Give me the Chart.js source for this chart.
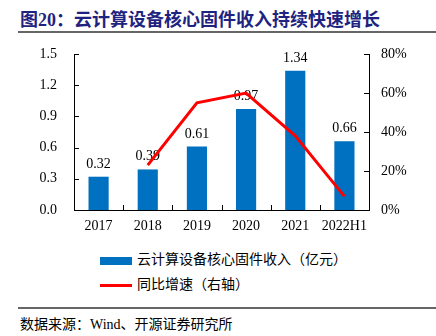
<!DOCTYPE html>
<html>
<head>
<meta charset="utf-8">
<script src="https://cdn.jsdelivr.net/npm/chart.js@4"></script>
<style>
  body { margin: 0; width: 436px; height: 336px; background: #fff; position: relative; overflow: hidden;
         font-family: 'Liberation Serif', 'Noto Sans CJK SC', serif; }
  .title { position: absolute; left: 20px; top: 5px; font-size: 18px; font-weight: bold; color: #1f2380;
           font-family: 'Liberation Serif', 'Noto Sans CJK SC', serif; white-space: nowrap; }
  .rule { position: absolute; left: 18px; right: 0; height: 2px; background: #666; }
  .chartbox { position: absolute; left: 0; top: 0; width: 436px; height: 240px; }
  .legend { position: absolute; left: 100px; font-size: 14px; color: #000; white-space: nowrap; }
  .legend .sw { display: inline-block; width: 32px; vertical-align: middle; margin-right: 5px; }
  .footer { position: absolute; left: 20px; top: 313px; font-size: 14px; color: #000; white-space: nowrap; }
</style>
</head>
<body>
<div class="title">图20：云计算设备核心固件收入持续快速增长</div>
<div class="rule" style="top:31px"></div>
<div class="chartbox"><canvas id="chart" width="436" height="240"></canvas></div>
<div class="legend" style="top:248px"><span class="sw" style="height:8px;background:#0070c0"></span>云计算设备核心固件收入（亿元）</div>
<div class="legend" style="top:273px"><span class="sw" style="height:3px;background:#ff0000"></span>同比增速（右轴）</div>
<div class="rule" style="top:307px"></div>
<div class="footer">数据来源：Wind、开源证券研究所</div>
<script>
// categories and values
const years = ['2017', '2018', '2019', '2020', '2021', '2022H1'];
const revenue = [0.32, 0.39, 0.61, 0.97, 1.34, 0.66];
const growth = [null, 23, 55, 60, 38, 7];

const serif = "'Liberation Serif', 'Times New Roman', serif";
Chart.defaults.font.family = serif;
Chart.defaults.font.size = 14;
Chart.defaults.color = '#000';

// value labels above the bars, drawn right after the bars so the line passes over them
const barLabels = {
    id: 'barLabels',
    afterDatasetDraw(chart, args) {
        if (args.index !== 1) return;
        const ctx = chart.ctx;
        ctx.save();
        ctx.font = '14px ' + serif;
        ctx.fillStyle = '#000';
        ctx.textAlign = 'center';
        ctx.textBaseline = 'alphabetic';
        args.meta.data.forEach((bar, i) => {
            ctx.fillText(revenue[i].toFixed(2), bar.x, bar.y - 9);
        });
        ctx.restore();
    }
};

// tick marks pointing into the plot
const innerTicks = {
    id: 'innerTicks',
    afterDraw(chart) {
        const ctx = chart.ctx;
        const { y, y1, x } = chart.scales;
        const area = chart.chartArea;
        ctx.save();
        ctx.strokeStyle = '#000';
        ctx.lineWidth = 1;
        ctx.beginPath();
        y.ticks.forEach((t, i) => {
            const py = Math.round(y.getPixelForTick(i)) + 0.5;
            ctx.moveTo(area.left, py);
            ctx.lineTo(area.left + 5, py);
        });
        y1.ticks.forEach((t, i) => {
            const py = Math.round(y1.getPixelForTick(i)) + 0.5;
            ctx.moveTo(area.right, py);
            ctx.lineTo(area.right - 5, py);
        });
        const step = (area.right - area.left) / years.length;
        for (let i = 1; i < years.length; i++) {
            const px = Math.round(x.getPixelForTick(i) - step / 2) + 0.5;
            ctx.moveTo(px, area.bottom);
            ctx.lineTo(px, area.bottom - 5);
        }
        ctx.stroke();
        ctx.restore();
    }
};

new Chart(document.getElementById('chart'), {
    data: {
        labels: years,
        datasets: [
            {
                type: 'line',
                label: '同比增速（右轴）',
                data: growth,
                yAxisID: 'y1',
                borderColor: '#ff0000',
                borderWidth: 3,
                pointRadius: 0,
                tension: 0,
                order: 0
            },
            {
                type: 'bar',
                label: '云计算设备核心固件收入（亿元）',
                data: revenue,
                yAxisID: 'y',
                backgroundColor: '#0070c0',
                categoryPercentage: 1,
                barPercentage: 0.41,
                order: 1
            }
        ]
    },
    options: {
        responsive: false,
        animation: false,
        layout: { padding: { top: 54, left: 0, right: 0, bottom: 0 } },
        plugins: {
            legend: { display: false },
            tooltip: { enabled: false }
        },
        scales: {
            x: {
                grid: { display: false, drawTicks: false },
                border: { display: true, color: '#000', width: 1 },
                ticks: { padding: 8, maxRotation: 0, autoSkip: false },
                afterFit(scale) { scale.height = 30; }
            },
            y: {
                position: 'left',
                min: 0,
                max: 1.5,
                grid: { display: false, drawTicks: false },
                border: { display: true, color: '#000', width: 1 },
                ticks: { stepSize: 0.3, padding: 17, callback: v => v.toFixed(1) },
                afterFit(scale) { scale.width = 74; }
            },
            y1: {
                position: 'right',
                min: 0,
                max: 80,
                grid: { display: false, drawTicks: false },
                border: { display: true, color: '#000', width: 1 },
                ticks: { stepSize: 20, padding: 12, callback: v => v + '%' },
                afterFit(scale) { scale.width = 67; }
            }
        }
    },
    plugins: [barLabels, innerTicks]
});
</script>
</body>
</html>
